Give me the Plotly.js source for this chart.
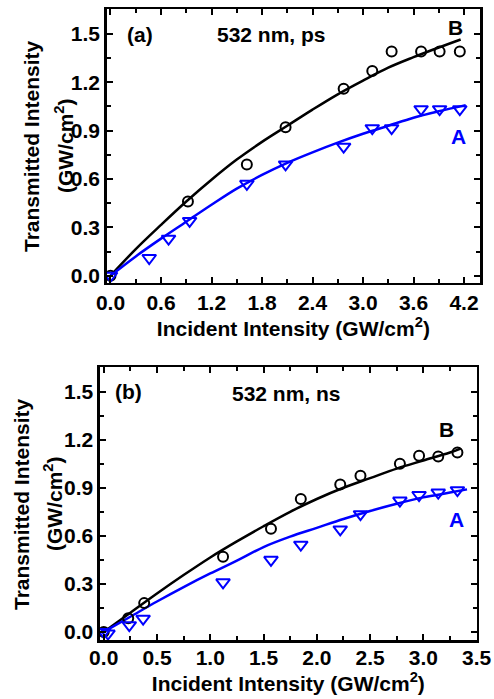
<!DOCTYPE html>
<html>
<head>
<meta charset="utf-8">
<script src="https://cdn.plot.ly/plotly-3.0.1.min.js"></script>
<style>html,body{margin:0;padding:0;background:#fff;}#chart{width:494px;height:699px;}</style>
</head>
<body>
<div id="chart"></div>
<script>
// ---- Panel (a): 532 nm, ps ----
const psBx = [0, 0.92, 1.62, 2.08, 2.77, 3.11, 3.34, 3.69, 3.91, 4.15];
const psBy = [0, 0.46, 0.69, 0.92, 1.16, 1.27, 1.39, 1.39, 1.39, 1.39];
const psAx = [0, 0.46, 0.69, 0.94, 1.62, 2.08, 2.77, 3.11, 3.34, 3.69, 3.91, 4.15];
const psAy = [0, 0.11, 0.23, 0.34, 0.57, 0.69, 0.80, 0.915, 0.915, 1.033, 1.033, 1.033];
const psFitBx = [0, 0.3, 0.6, 0.9, 1.2, 1.5, 1.8, 2.1, 2.4, 2.7, 3.0, 3.3, 3.6, 3.9, 4.16];
const psFitBy = [0, 0.165, 0.315, 0.46, 0.595, 0.72, 0.83, 0.93, 1.03, 1.125, 1.21, 1.29, 1.355, 1.415, 1.465];
const psFitAx = [0, 0.3, 0.6, 0.9, 1.2, 1.5, 1.8, 2.1, 2.4, 2.7, 3.0, 3.3, 3.6, 3.9, 4.22];
const psFitAy = [0, 0.12, 0.23, 0.335, 0.44, 0.54, 0.625, 0.70, 0.765, 0.825, 0.88, 0.93, 0.98, 1.02, 1.058];

// ---- Panel (b): 532 nm, ns ----
const nsBx = [0, 0.23, 0.38, 1.12, 1.57, 1.85, 2.22, 2.41, 2.78, 2.96, 3.14, 3.32];
const nsBy = [0, 0.085, 0.18, 0.47, 0.645, 0.83, 0.92, 0.975, 1.05, 1.10, 1.095, 1.12];
const nsAx = [0, 0.04, 0.24, 0.37, 1.12, 1.57, 1.85, 2.22, 2.41, 2.78, 2.96, 3.14, 3.32];
const nsAy = [0, -0.01, 0.042, 0.083, 0.31, 0.45, 0.545, 0.64, 0.735, 0.82, 0.855, 0.87, 0.885];
const nsFitBx = [0, 0.25, 0.5, 0.75, 1.0, 1.25, 1.5, 1.75, 2.0, 2.25, 2.5, 2.75, 3.0, 3.25, 3.35];
const nsFitBy = [0, 0.12, 0.24, 0.355, 0.465, 0.565, 0.66, 0.75, 0.83, 0.9, 0.96, 1.02, 1.07, 1.12, 1.145];
const nsFitAx = [0, 0.25, 0.5, 0.75, 1.0, 1.25, 1.5, 1.75, 2.0, 2.25, 2.5, 2.75, 3.0, 3.25, 3.41];
const nsFitAy = [0, 0.095, 0.19, 0.28, 0.365, 0.445, 0.53, 0.595, 0.65, 0.705, 0.755, 0.80, 0.84, 0.87, 0.89];

const BLUE = '#0000ff';
const BLACK = '#000000';
const FONT = {family: 'Liberation Sans, Arial, sans-serif', size: 21, color: '#000', weight: 'bold'};

function fit(x, y, color, xa, ya) {
  return {x: x, y: y, xaxis: xa, yaxis: ya, mode: 'lines', type: 'scatter',
    line: {color: color, width: 2.5, shape: 'spline'}, hoverinfo: 'skip'};
}
function pts(x, y, color, sym, size, xa, ya) {
  return {x: x, y: y, xaxis: xa, yaxis: ya, mode: 'markers', type: 'scatter',
    marker: {symbol: sym, size: size, color: color, line: {color: color, width: 2}}};
}

const data = [
  fit(psFitBx, psFitBy, BLACK, 'x', 'y'),
  fit(psFitAx, psFitAy, BLUE, 'x', 'y'),
  pts(psBx, psBy, BLACK, 'circle-open', 10, 'x', 'y'),
  pts(psAx, psAy, BLUE, 'triangle-down-open', 12, 'x', 'y'),
  fit(nsFitBx, nsFitBy, BLACK, 'x2', 'y2'),
  fit(nsFitAx, nsFitAy, BLUE, 'x2', 'y2'),
  pts(nsBx, nsBy, BLACK, 'circle-open', 10, 'x2', 'y2'),
  pts(nsAx, nsAy, BLUE, 'triangle-down-open', 12, 'x2', 'y2')
];

function axis(extra) {
  return Object.assign({
    showline: true, linewidth: 2.5, linecolor: '#000', mirror: 'ticks',
    ticks: 'inside', ticklen: 6, tickwidth: 2, tickcolor: '#000',
    showgrid: false, zeroline: false, tickfont: FONT, tickformat: '.1f', tick0: 0
  }, extra);
}

const xTitle = {text: 'Incident Intensity (GW/cm<sup>2</sup>)', font: FONT, standoff: 2};
const xTitle2 = {text: 'Incident Intensity (GW/cm<sup>2</sup>)', font: FONT, standoff: 0};

const layout = {
  width: 494, height: 699,
  margin: {l: 0, r: 0, t: 0, b: 0},
  paper_bgcolor: '#fff', plot_bgcolor: '#fff',
  showlegend: false,
  font: FONT,
  xaxis: axis({domain: [0.216, 0.9717], range: [-0.045, 4.39], dtick: 0.6,
    minor: {ticks: 'inside', ticklen: 4, tickwidth: 2, dtick: 0.3, tick0: 0}, title: xTitle, anchor: 'y'}),
  yaxis: axis({domain: [0.5956, 0.9867], range: [-0.043, 1.652], dtick: 0.3,
    minor: {ticks: 'inside', ticklen: 4, tickwidth: 2, dtick: 0.15, tick0: 0}, anchor: 'x'}),
  xaxis2: axis({domain: [0.2024, 0.965], range: [-0.035, 3.501], dtick: 0.5, ticklabelstandoff: -3,
    minor: {ticks: 'inside', ticklen: 4, tickwidth: 2, dtick: 0.25, tick0: 0}, title: xTitle2, anchor: 'y2'}),
  yaxis2: axis({domain: [0.084, 0.4745], range: [-0.052, 1.652], dtick: 0.3,
    minor: {ticks: 'inside', ticklen: 4, tickwidth: 2, dtick: 0.15, tick0: 0}, anchor: 'x2'}),
  annotations: [
    {xref: 'x', yref: 'y', x: 0.35, y: 1.494, text: '(a)', showarrow: false, font: FONT, xanchor: 'center', yanchor: 'middle'},
    {xref: 'x', yref: 'y', x: 1.918, y: 1.494, text: '532 nm, ps', showarrow: false, font: FONT, xanchor: 'center', yanchor: 'middle'},
    {xref: 'x', yref: 'y', x: 4.1, y: 1.538, text: 'B', showarrow: false, font: FONT, xanchor: 'center', yanchor: 'middle'},
    {xref: 'x', yref: 'y', x: 4.13, y: 0.862, text: 'A', showarrow: false, font: Object.assign({}, FONT, {color: BLUE}), xanchor: 'center', yanchor: 'middle'},
    {xref: 'x2', yref: 'y2', x: 0.234, y: 1.5, text: '(b)', showarrow: false, font: FONT, xanchor: 'center', yanchor: 'middle'},
    {xref: 'x2', yref: 'y2', x: 1.72, y: 1.49, text: '532 nm, ns', showarrow: false, font: FONT, xanchor: 'center', yanchor: 'middle'},
    {xref: 'x2', yref: 'y2', x: 3.214, y: 1.261, text: 'B', showarrow: false, font: FONT, xanchor: 'center', yanchor: 'middle'},
    {xref: 'x2', yref: 'y2', x: 3.314, y: 0.701, text: 'A', showarrow: false, font: Object.assign({}, FONT, {color: BLUE}), xanchor: 'center', yanchor: 'middle'},
    {xref: 'paper', yref: 'paper', x: 32/494, y: (699-146)/699, text: 'Transmitted Intensity', textangle: -90, showarrow: false, font: FONT, xanchor: 'center', yanchor: 'middle'},
    {xref: 'paper', yref: 'paper', x: 64/494, y: (699-146)/699, text: '(GW/cm<sup>2</sup>)', textangle: -90, showarrow: false, font: FONT, xanchor: 'center', yanchor: 'middle'},
    {xref: 'paper', yref: 'paper', x: 21/494, y: (699-504)/699, text: 'Transmitted Intensity', textangle: -90, showarrow: false, font: FONT, xanchor: 'center', yanchor: 'middle'},
    {xref: 'paper', yref: 'paper', x: 53/494, y: (699-504)/699, text: '(GW/cm<sup>2</sup>)', textangle: -90, showarrow: false, font: FONT, xanchor: 'center', yanchor: 'middle'}
  ]
};

Plotly.newPlot('chart', data, layout, {staticPlot: true, displayModeBar: false});
</script>
</body>
</html>
